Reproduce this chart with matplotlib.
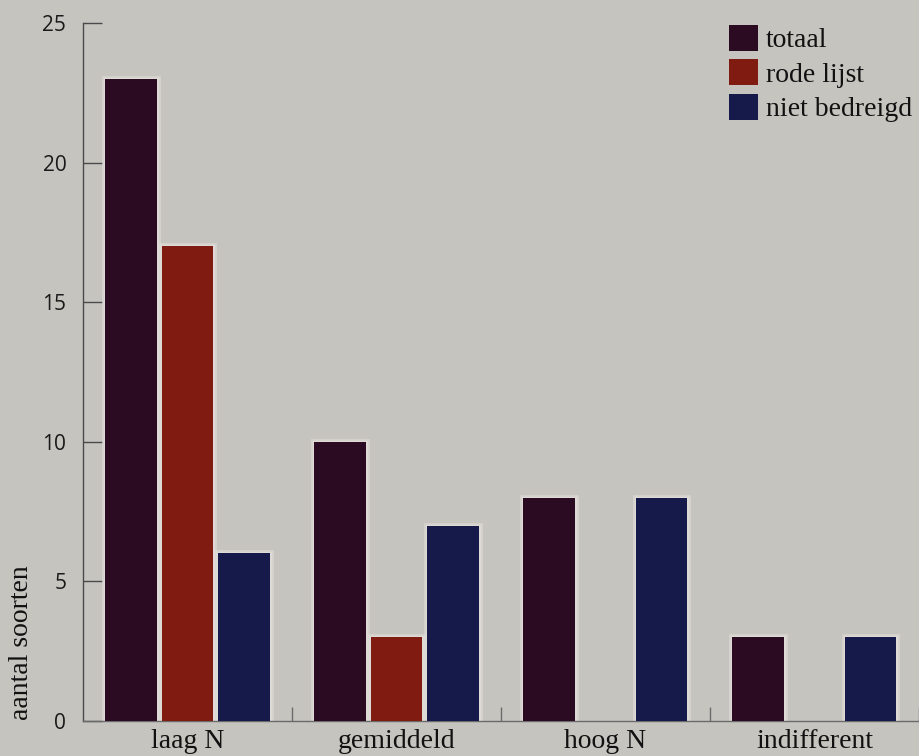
import numpy as np
import matplotlib
matplotlib.use("Agg")
import matplotlib.pyplot as plt

# Data
categories = ["laag N", "gemiddeld", "hoog N", "indifferent"]
series_names = ["totaal", "rode lijst", "niet bedreigd"]
totaal = [23, 10, 8, 3]
rode_lijst = [17, 3, 0, 0]
niet_bedreigd = [6, 7, 8, 3]
y_ticks = [0, 5, 10, 15, 20, 25]

colors = ["#2a0b22", "#801b12", "#161a4a"]
bg = "#c6c4bf"
halo = "#e6e2df"

W, H, DPI = 920, 756, 100
fig = plt.figure(figsize=(W / DPI, H / DPI), dpi=DPI, facecolor=bg)
ax = fig.add_axes([83 / W, (H - 721) / H, (W - 83) / W, (721 - 23) / H])
ax.set_facecolor(bg)

x = np.arange(len(categories))
bar_w = 0.245
step = 0.27
all_series = [totaal, rode_lijst, niet_bedreigd]

for i, (vals, col, name) in enumerate(zip(all_series, colors, series_names)):
    pos = x + (i - 1) * step
    # soft light rim around each bar
    ax.bar(pos, vals, bar_w, color="none", edgecolor=halo,
           linewidth=[5.0 if v > 0 else 0 for v in vals], alpha=0.45, zorder=2)
    ax.bar(pos, vals, bar_w, color="none", edgecolor=halo,
           linewidth=[2.5 if v > 0 else 0 for v in vals], alpha=0.6, zorder=2)
    ax.bar(pos, vals, bar_w, color=col, edgecolor="none", label=name, zorder=3)

ax.set_xlim(-0.5, 3.505)
ax.set_ylim(0, 25)

# axes styling
for s in ["top", "right"]:
    ax.spines[s].set_visible(False)
ax.spines["left"].set_color("#4a4a4a")
ax.spines["left"].set_linewidth(1.0)
ax.spines["bottom"].set_color("#6a6a6a")
ax.spines["bottom"].set_linewidth(1.0)

ax.set_yticks(y_ticks)
ax.set_yticklabels([str(t) for t in y_ticks], fontfamily="Open Sans",
                   fontsize=15, color="#1a1a1a")
ax.tick_params(axis="y", direction="in", length=14, width=1.0,
               color="#4a4a4a", pad=12)

# group separator ticks on x axis, category labels centred under groups
ax.set_xticks(x + 0.5)
ax.set_xticklabels([])
ax.set_xticks(x, minor=True)
ax.set_xticklabels(categories, minor=True, fontfamily="Liberation Serif",
                   fontsize=20, color="#111111")
ax.tick_params(axis="x", which="major", direction="in", length=10,
               width=1.0, color="#6a6a6a")
ax.tick_params(axis="x", which="minor", length=0, pad=6)

fig.text(22 / W, 1 - 643 / H, "aantal soorten", rotation=90,
         ha="center", va="center", fontfamily="Liberation Serif",
         fontsize=20, color="#111111")

leg = ax.legend(loc="upper left", bbox_to_anchor=(729 / W, 1 - 25 / H),
                bbox_transform=fig.transFigure, frameon=False,
                prop={"family": "Liberation Serif", "size": 20},
                handlelength=1.05, handleheight=1.05, handletextpad=0.28,
                labelspacing=0.22, borderpad=0, borderaxespad=0)
for t in leg.get_texts():
    t.set_color("#111111")

fig.savefig("out.png", dpi=DPI, facecolor=bg)
